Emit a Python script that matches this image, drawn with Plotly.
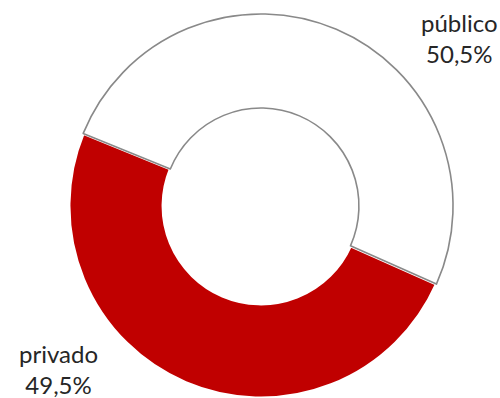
import plotly.graph_objects as go

# Share of the total by sector
labels = ["privado", "público"]
values = [49.5, 50.5]
colors = ["#C00000", "#FFFFFF"]
line_colors = ["#FFFFFF", "#898989"]
line_widths = [3, 1.6]

fig = go.Figure(
    go.Pie(
        labels=labels,
        values=values,
        hole=0.51,
        sort=False,
        direction="clockwise",
        rotation=114,
        marker=dict(colors=colors, line=dict(color=line_colors, width=line_widths)),
        textinfo="none",
        hoverinfo="label+percent",
        showlegend=False,
        domain=dict(x=[0.136, 0.908], y=[0.0, 0.965]),
    )
)

# Outside labels: name on the first line, value on the second
label_pos = {"público": (0.918, 0.905), "privado": (0.116, 0.073)}
for name, val in zip(labels, values):
    x, y = label_pos[name]
    fig.add_annotation(
        x=x, y=y, xref="paper", yref="paper",
        xanchor="center", yanchor="middle",
        text=f"{name}<br>{val:.1f}%".replace(".", ","),
        showarrow=False,
        font=dict(family="Lato, sans-serif", size=24, color="#262626"),
    )

fig.update_layout(
    width=500, height=398,
    margin=dict(l=0, r=0, t=0, b=0),
    paper_bgcolor="white",
    plot_bgcolor="white",
)

fig.write_html("out.html")
